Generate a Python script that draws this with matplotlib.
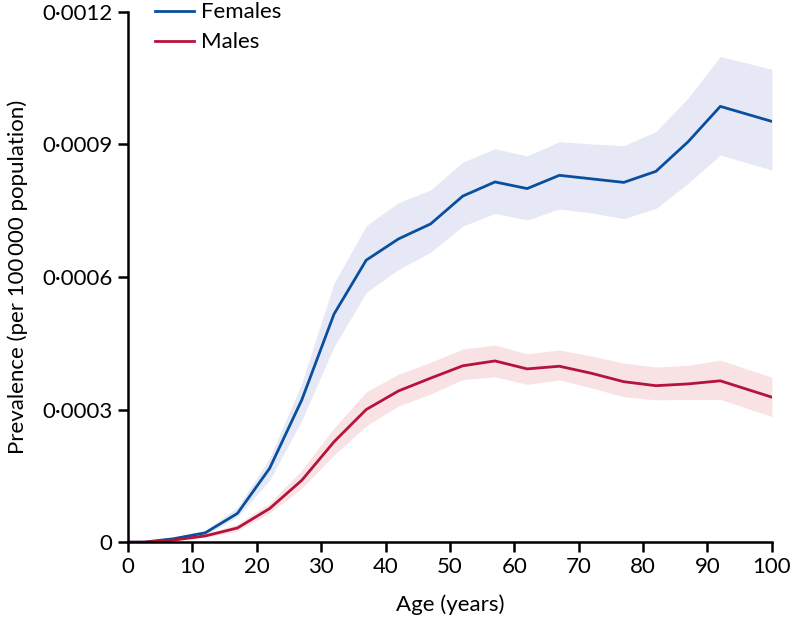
import numpy as np
from matplotlib import pyplot as plt
from matplotlib.ticker import FuncFormatter

# Data
age = [0, 2.5, 7, 12, 17, 22, 27, 32, 37, 42, 47, 52, 57, 62, 67, 72, 77, 82, 87, 92, 100]

females = [0, 0, 0.0000075, 0.000021, 0.000065, 0.000167, 0.000322, 0.000516, 0.000638, 0.000686,
           0.00072, 0.000783, 0.000815, 0.0008, 0.00083, 0.000822, 0.000814, 0.000839, 0.000906,
           0.000986, 0.000952]
females_upper = [0, 0, 0.000011, 0.000027, 0.000079, 0.00019, 0.00036, 0.000586, 0.000716, 0.000768,
                 0.000797, 0.00086, 0.00089, 0.000874, 0.000906, 0.000901, 0.000897, 0.000929, 0.001005,
                 0.001099, 0.00107]
females_lower = [0, 0, 0.0000045, 0.000016, 0.000057, 0.00014, 0.000276, 0.000442, 0.000565, 0.000617,
                 0.000656, 0.000715, 0.000744, 0.000729, 0.000754, 0.000745, 0.000732, 0.000755, 0.000812,
                 0.000876, 0.000842]

males = [0, 0, 0.0000045, 0.000014, 0.000032, 0.000076, 0.00014, 0.000227, 0.0003, 0.000342,
         0.000371, 0.000399, 0.00041, 0.000392, 0.000398, 0.000382, 0.000363, 0.000354, 0.000358,
         0.000365, 0.000328]
males_upper = [0, 0, 0.000006, 0.000018, 0.000041, 0.000088, 0.000163, 0.000258, 0.00034, 0.00038,
               0.000407, 0.000437, 0.000446, 0.000426, 0.000435, 0.000421, 0.000405, 0.000396, 0.0004,
               0.000412, 0.000373]
males_lower = [0, 0, 0.000003, 0.000011, 0.000025, 0.000066, 0.000122, 0.000197, 0.000263, 0.000308,
               0.000335, 0.000368, 0.000374, 0.000357, 0.000367, 0.000349, 0.000329, 0.000322, 0.000323,
               0.000323, 0.000284]

plt.rcParams['font.family'] = ['Lato', 'DejaVu Sans']
plt.rcParams['font.size'] = 16

fig = plt.figure(figsize=(7.9, 6.21), dpi=100)
ax = fig.add_axes([0.162, 0.127, 0.815, 0.854])

blue = '#0a4f9e'
red = '#b5123c'
ax.fill_between(age, females_lower, females_upper, color='#e6e9f5', lw=0)
ax.fill_between(age, males_lower, males_upper, color='#f8e2e4', lw=0)
ax.plot(age, females, color=blue, lw=2, label='Females')
ax.plot(age, males, color=red, lw=2, label='Males')

ax.set_xlim(0, 100)
ax.set_ylim(0, 0.0012)
ax.set_xticks(np.arange(0, 101, 10))
ax.set_yticks([0, 0.0003, 0.0006, 0.0009, 0.0012])
ax.yaxis.set_major_formatter(FuncFormatter(lambda v, p: '0' if v == 0 else ('%.4f' % v).replace('.', '\u00b7')))

for s in ['top', 'right']:
    ax.spines[s].set_visible(False)
for s in ['left', 'bottom']:
    ax.spines[s].set_linewidth(1.8)
ax.tick_params(width=1.8, length=7, labelsize=16, pad=4)

ax.set_xlabel('Age (years)', fontsize=16, labelpad=12)
ax.set_ylabel('Prevalence (per 100\u2009000 population)', fontsize=16, labelpad=10)

fig.legend(loc='upper left', bbox_to_anchor=(155 / 790, 0.996), frameon=False, fontsize=16,
           handlelength=1.75, handletextpad=0.3, labelspacing=0.45, borderaxespad=0, borderpad=0)

fig.savefig('out.png', dpi=100)
